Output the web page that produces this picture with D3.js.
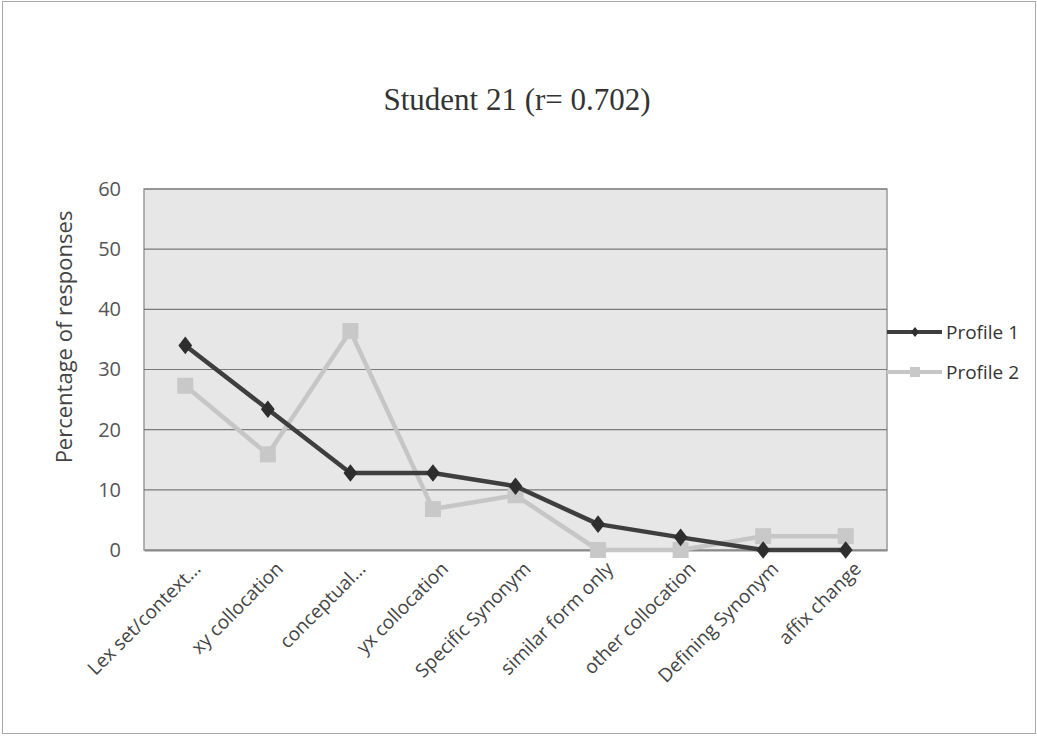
<!DOCTYPE html>
<html>
<head>
<meta charset="utf-8">
<script src="https://cdn.jsdelivr.net/npm/d3@7"></script>
<style>
  html, body { margin: 0; padding: 0; background: #fff; }
  svg { display: block; }
</style>
</head>
<body>
<svg id="chart" width="1037" height="740"></svg>
<script>
// Response categories along the x axis
const categories = [
  "Lex set/context...", "xy collocation", "conceptual...", "yx collocation",
  "Specific Synonym", "similar form only", "other collocation",
  "Defining Synonym", "affix change"
];
// Percentage of responses for each profile
const profile1 = [34.0, 23.4, 12.8, 12.8, 10.6, 4.3, 2.1, 0, 0];
const profile2 = [27.3, 15.9, 36.4, 6.8, 9.1, 0, 0, 2.3, 2.3];
const seriesNames = ["Profile 1", "Profile 2"];
const yTicks = [0, 10, 20, 30, 40, 50, 60];
const titleText = "Student 21 (r= 0.702)";
const yLabel = "Percentage of responses";

const svg = d3.select("#chart");
const plot = { left: 144, right: 887, top: 189, bottom: 550 };
const sans = "'Open Sans', sans-serif";

// outer frame
svg.append("rect")
  .attr("x", 2.5).attr("y", 1.5).attr("width", 1033).attr("height", 732)
  .attr("fill", "#fff").attr("stroke", "#a8a8a8").attr("stroke-width", 1);

const x = d3.scalePoint().domain(categories)
  .range([plot.left, plot.right]).padding(0.5);
const y = d3.scaleLinear().domain([0, 60]).range([plot.bottom, plot.top]);

// plot area background
svg.append("rect")
  .attr("x", plot.left).attr("y", plot.top)
  .attr("width", plot.right - plot.left).attr("height", plot.bottom - plot.top)
  .attr("fill", "#e7e7e7").attr("stroke", "#9a9a9a").attr("stroke-width", 1.5);

// horizontal gridlines
svg.append("g").selectAll("line").data(yTicks.filter(d => d > 0)).join("line")
  .attr("x1", plot.left).attr("x2", plot.right)
  .attr("y1", d => y(d)).attr("y2", d => y(d))
  .attr("stroke", "#7a7a7a").attr("stroke-width", 1.2);

// y axis
const yAxis = svg.append("g")
  .attr("transform", `translate(${plot.left},0)`)
  .call(d3.axisLeft(y).tickValues(yTicks).tickSize(0).tickPadding(23));
yAxis.select(".domain").remove();
yAxis.selectAll("text")
  .attr("font-family", sans).attr("font-size", 20)
  .attr("fill", "#555");

// x axis (rotated labels)
const xAxis = svg.append("g")
  .attr("transform", `translate(0,${plot.bottom})`)
  .call(d3.axisBottom(x).tickSize(0).tickPadding(0));
xAxis.select(".domain").attr("stroke", "#8a8a8a").attr("stroke-width", 2);
xAxis.selectAll("text")
  .attr("font-family", sans).attr("font-size", 19)
  .attr("fill", "#444")
  .attr("text-anchor", "end")
  .attr("dy", null)
  .attr("transform", "translate(16,20) rotate(-45)");

// title
svg.append("text")
  .attr("x", 517).attr("y", 110)
  .attr("text-anchor", "middle")
  .attr("font-family", "'Liberation Serif', serif").attr("font-size", 31)
  .attr("fill", "#333")
  .text(titleText);

// y axis title
svg.append("text")
  .attr("transform", `translate(72,337) rotate(-90)`)
  .attr("text-anchor", "middle")
  .attr("font-family", sans).attr("font-size", 22)
  .attr("fill", "#444")
  .text(yLabel);

const line = d3.line().x((d, i) => x(categories[i])).y(d => y(d));

// Profile 2 (light, squares)
svg.append("path").datum(profile2)
  .attr("d", line).attr("fill", "none")
  .attr("stroke", "#c6c6c6").attr("stroke-width", 4.5).attr("stroke-linejoin", "round");
svg.append("g").selectAll("rect").data(profile2).join("rect")
  .attr("x", (d, i) => x(categories[i]) - 8).attr("y", d => y(d) - 8)
  .attr("width", 16).attr("height", 16).attr("fill", "#c8c8c8");

// Profile 1 (dark, diamonds)
svg.append("path").datum(profile1)
  .attr("d", line).attr("fill", "none")
  .attr("stroke", "#3e3e3e").attr("stroke-width", 4.5).attr("stroke-linejoin", "round");
const diamond = d3.symbol().type(d3.symbolDiamond2).size(150);
svg.append("g").selectAll("path").data(profile1).join("path")
  .attr("d", diamond)
  .attr("transform", (d, i) => `translate(${x(categories[i])},${y(d)}) scale(0.9,1.15)`)
  .attr("fill", "#2e2e2e");

// legend
const legend = svg.append("g");
const legendY = [332, 372];
const legendStyle = [
  { stroke: "#3e3e3e", fill: "#2e2e2e", shape: "diamond" },
  { stroke: "#c6c6c6", fill: "#c8c8c8", shape: "square" }
];
seriesNames.forEach((name, k) => {
  const ly = legendY[k];
  legend.append("line")
    .attr("x1", 887).attr("x2", 942).attr("y1", ly).attr("y2", ly)
    .attr("stroke", legendStyle[k].stroke).attr("stroke-width", 4);
  if (legendStyle[k].shape === "diamond") {
    legend.append("path").attr("d", d3.symbol().type(d3.symbolDiamond2).size(50))
      .attr("transform", `translate(915,${ly}) scale(0.9,1.15)`)
      .attr("fill", legendStyle[k].fill);
  } else {
    legend.append("rect").attr("x", 910).attr("y", ly - 5).attr("width", 10).attr("height", 10)
      .attr("fill", legendStyle[k].fill);
  }
  legend.append("text")
    .attr("x", 946).attr("y", ly + 7)
    .attr("font-family", sans).attr("font-size", 19)
    .attr("fill", "#333")
    .text(name);
});
</script>
</body>
</html>
